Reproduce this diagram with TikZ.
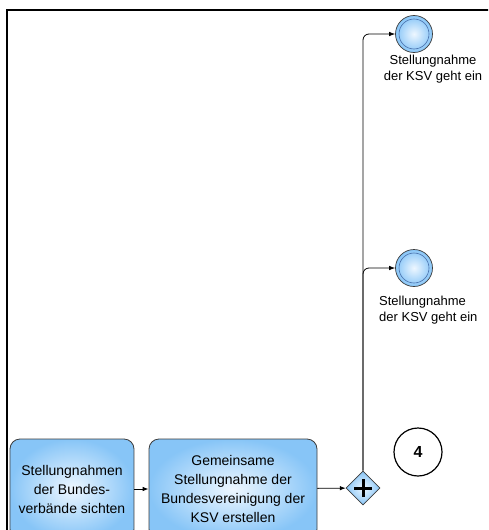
\documentclass[tikz,border=0pt]{standalone}
\usepackage{fontspec}
\setmainfont{Liberation Sans}
\usetikzlibrary{arrows.meta,shapes.geometric}

\definecolor{bpmnedge}{RGB}{135,197,247}
\definecolor{bpmncore}{RGB}{238,247,255}
\definecolor{bpmnline}{RGB}{60,60,60}
\definecolor{bpmnring}{RGB}{70,110,170}

\begin{document}
\begin{tikzpicture}[x={(1pt,0pt)},y={(0pt,-1pt)},
    task/.style={draw=bpmnline,line width=0.8pt,rounded corners=10pt,
      inner color=bpmncore,outer color=bpmnedge,align=center,
      minimum height=100pt,inner sep=2pt,font=\fontsize{14}{19}\selectfont},
    event/.style={circle,draw=bpmnline,line width=0.7pt,minimum size=37pt,
      inner sep=0pt,inner color=bpmncore,outer color=bpmnedge},
    gateway/.style={diamond,draw=bpmnline,line width=0.7pt,minimum width=34pt,
      minimum height=34pt,inner sep=0pt,inner color=bpmncore,outer color=bpmnedge},
    evlabel/.style={inner sep=0pt,font=\fontsize{13}{16}\selectfont},
    flow/.style={line width=0.8pt,-{Latex[length=6pt,width=4.5pt]},rounded corners=6pt}]
  \useasboundingbox (0,0) rectangle (488,530);
  \clip (0,0) rectangle (488,530);
  % pool border
  \draw[line width=1.6pt] (7,540) -- (7,10) -- (500,10);
  % tasks and gateway
  \node[task,minimum width=124pt] (sichten) at (72,489)
    {Stellungnahmen\\der Bundes-\\verbände sichten};
  \node[task,minimum width=168pt] (erstellen) at (233,489)
    {Gemeinsame\\Stellungnahme der\\Bundesvereinigung der\\KSV erstellen};
  \node[gateway] (gw) at (363,488) {};
  \draw[line width=3pt] ([xshift=-9pt]gw.center) -- ([xshift=9pt]gw.center);
  \draw[line width=3pt] ([yshift=-9pt]gw.center) -- ([yshift=9pt]gw.center);
  % events
  \node[event] (ev1) at (414,34) {};
  \draw[bpmnring,line width=0.6pt] (ev1.center) circle (15pt);
  \node[event] (ev2) at (414,268) {};
  \draw[bpmnring,line width=0.6pt] (ev2.center) circle (15pt);
  \node[evlabel,align=center,anchor=base] (lab1) at (433,80)
    {Stellungnahme\\der KSV geht ein};
  \node[evlabel,align=left,anchor=base west] (lab2) at (379,321)
    {Stellungnahme\\der KSV geht ein};
  \node[circle,draw,line width=1.2pt,minimum size=48pt,
    font=\bfseries\fontsize{16}{16}\selectfont] (nr) at (418,452) {4};
  % sequence flows
  \draw[flow] (sichten) -- (erstellen);
  \draw[flow] (erstellen) -- (gw);
  \draw[flow] (gw.north) |- (ev1.west);
  \draw[flow] (gw.north) |- (ev2.west);
\end{tikzpicture}
\end{document}
